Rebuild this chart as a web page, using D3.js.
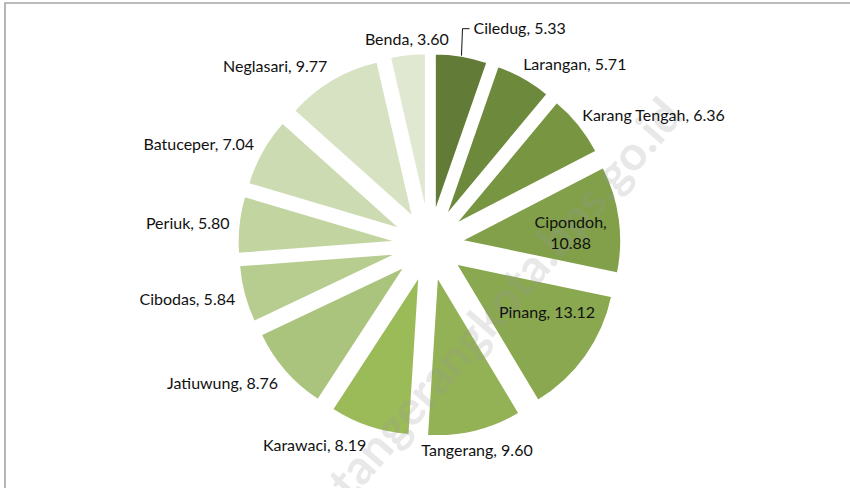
<!DOCTYPE html>
<html>
<head>
<meta charset="utf-8">
<script src="https://cdn.jsdelivr.net/npm/d3@7"></script>
<style>
  body { margin: 0; background: #fff; }
  svg { display: block; font-family: Lato, "Noto Sans", sans-serif; }
</style>
</head>
<body>
<script>
// Data: share per kecamatan (%), clockwise from 12 o'clock
const districts = ["Ciledug", "Larangan", "Karang Tengah", "Cipondoh", "Pinang", "Tangerang",
  "Karawaci", "Jatiuwung", "Cibodas", "Periuk", "Batuceper", "Neglasari", "Benda"];
const shares = [5.33, 5.71, 6.36, 10.88, 13.12, 9.60, 8.19, 8.76, 5.84, 5.80, 7.04, 9.77, 3.60];
const colors = ["#627b36", "#6d893c", "#789642", "#81a049", "#89a84f", "#93b155", "#9bbb59",
  "#abc47d", "#b7cd90", "#c2d5a1", "#ccdbb1", "#d6e2c2", "#e0e8d2"];
const leaderLabels = ["Ciledug"];
const wrapLabels = ["Cipondoh"];

const width = 850, height = 488;
const cx = 429.5, cy = 245;
const radius = 160, explode = 32;

const svg = d3.select("body").append("svg")
    .attr("width", width)
    .attr("height", height);

// chart border (top and left edges visible)
svg.append("path")
    .attr("d", `M5,${height} V3 H${width}`)
    .attr("fill", "none")
    .attr("stroke", "#a6a6a6")
    .attr("stroke-width", 1.6);

const data = districts.map((name, i) => ({ name, value: shares[i], color: colors[i] }));

const pie = d3.pie().sort(null).value(d => d.value);
const arcs = pie(data);
const arc = d3.arc().innerRadius(0).outerRadius(radius);

const mid = d => (d.startAngle + d.endAngle) / 2;

const g = svg.append("g").attr("transform", `translate(${cx},${cy})`);

g.selectAll("path.slice")
    .data(arcs)
    .enter()
    .append("path")
    .attr("class", "slice")
    .attr("transform", d => `translate(${explode * Math.sin(mid(d))},${-explode * Math.cos(mid(d))})`)
    .attr("d", arc)
    .attr("fill", d => d.data.color)
    .attr("stroke", "#fff")
    .attr("stroke-width", 2);

// watermark
svg.append("text")
    .attr("transform", "translate(505,298) rotate(-49)")
    .attr("text-anchor", "middle")
    .attr("dy", "0.35em")
    .style("font-size", "48px")
    .style("font-weight", "bold")
    .style("fill", "#9a9a9a")
    .style("opacity", 0.22)
    .text("tangerangkota.bps.go.id");

// labels
const fmt = d3.format(".2f");
const labelR = 201;
const labels = svg.append("g")
    .style("font-size", "16px")
    .style("fill", "#111");

arcs.forEach(d => {
  const a = mid(d);
  const s = Math.sin(a), c = Math.cos(a);
  const txt = `${d.data.name}, ${fmt(d.data.value)}`;

  if (d.data.value > 10) {
    // inside label
    const ox = cx + explode * s, oy = cy - explode * c;
    const ir = radius * 0.64;
    const lx = ox + ir * s + 8, ly = oy - ir * c + 18 * c;
    const t = labels.append("text")
        .attr("x", lx)
        .attr("y", ly)
        .attr("text-anchor", "middle");
    if (wrapLabels.includes(d.data.name)) {
      t.append("tspan").attr("x", lx).attr("dy", "-0.1em").text(`${d.data.name},`);
      t.append("tspan").attr("x", lx).attr("dy", "1.35em").text(fmt(d.data.value));
    } else {
      t.attr("dy", "0.35em").text(txt);
    }
    return;
  }

  if (leaderLabels.includes(d.data.name)) {
    const x0 = cx + (radius + explode) * s, y0 = cy - (radius + explode) * c;
    const yTop = y0 - 27;
    svg.append("path")
        .attr("d", `M${x0},${y0} L${x0 + 1},${yTop} H${x0 + 8}`)
        .attr("fill", "none")
        .attr("stroke", "#111")
        .attr("stroke-width", 1);
    labels.append("text")
        .attr("x", x0 + 12)
        .attr("y", yTop)
        .attr("dy", "0.35em")
        .text(txt);
    return;
  }

  const px = cx + labelR * s, py = cy - labelR * c;
  const anchor = Math.abs(s) < 0.25 ? "middle" : (s > 0 ? "start" : "end");
  labels.append("text")
      .attr("x", px - (s > 0.25 ? 6 * c : 0))
      .attr("y", py - c * (c > 0 ? 6 : 10))
      .attr("dy", "0.35em")
      .attr("text-anchor", anchor)
      .text(txt);
});
</script>
</body>
</html>
